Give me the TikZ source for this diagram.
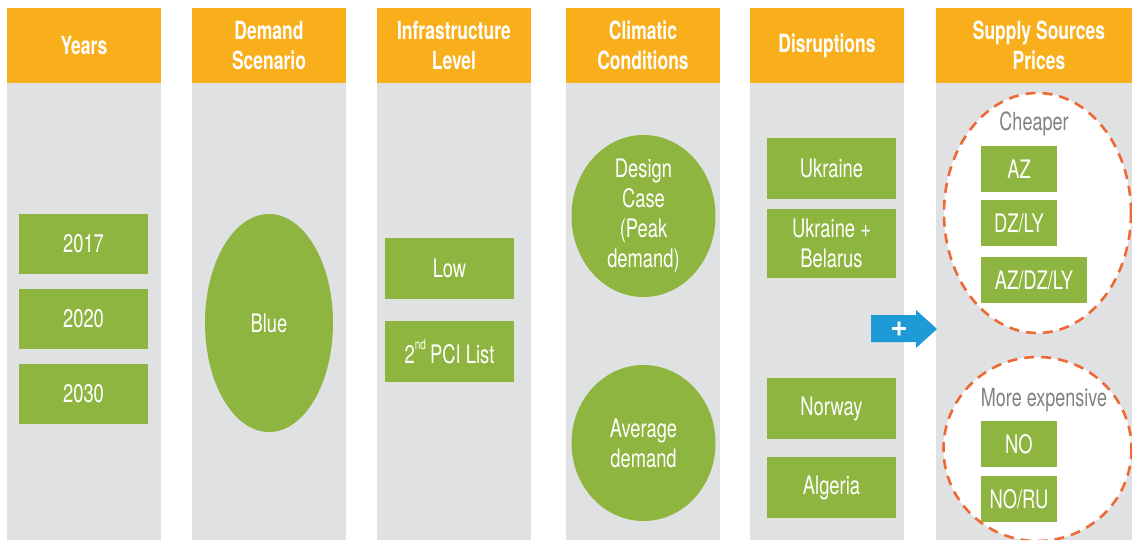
\documentclass[tikz,border=0pt]{standalone}
\usepackage{fontspec}
\usetikzlibrary{shapes.geometric}
\setmainfont{TeX Gyre Heros}[FakeStretch=0.72]
\newfontfamily\hdfont{TeX Gyre Heros}[FakeStretch=0.70]
\newfontfamily\plusfont{TeX Gyre Heros}
\definecolor{hdorange}{HTML}{F9AE1B}
\definecolor{colgray}{HTML}{E0E1E3}
\definecolor{boxgreen}{HTML}{8DB53F}
\definecolor{dashred}{HTML}{EE6A34}
\definecolor{arrowblue}{HTML}{1E9BD7}
\definecolor{txtgray}{HTML}{808285}
\begin{document}
\begin{tikzpicture}[x=1pt,y=-1pt,
  hdr/.style={fill=hdorange,draw=none,inner sep=0pt,text=white,align=center,
    font=\hdfont\bfseries\fontsize{25}{29.5}\selectfont},
  gbox/.style={rectangle,fill=boxgreen,draw=none,inner sep=0pt,text=white,align=center,
    font=\fontsize{25.5}{30}\selectfont},
  gell/.style={ellipse,fill=boxgreen,draw=none,inner sep=0pt,text=white,align=center,
    font=\fontsize{25.5}{30}\selectfont},
  dashell/.style={fill=white,draw=dashred,line width=2.6pt,dash pattern=on 10pt off 7pt},
  graytxt/.style={text=txtgray,inner sep=0pt,font=\fontsize{25}{28}\selectfont}
]
\useasboundingbox (0,0) rectangle (1132,540);
\fill[white] (0,0) rectangle (1132,540);
% columns
\foreach \x in {7,192,377,566,750} {
  \fill[colgray] (\x,83) rectangle ++(154,460);
  \fill[hdorange] (\x,8) rectangle ++(154,75);
}
\fill[colgray] (936,83) rectangle (1140,543);
\fill[hdorange] (936,8) rectangle (1140,83);
% headers
\node[hdr] (h1) at (84,45.5) {Years};
\node[hdr] (h2) at (269,45.5) {Demand\\Scenario};
\node[hdr] (h3) at (454,45.5) {Infrastructure\\Level};
\node[hdr] (h4) at (643,45.5) {Climatic\\Conditions};
\node[hdr] (h5) at (827,45.5) {Disruptions};
\node[hdr] (h6) at (1039,45.5) {Supply Sources\\Prices};
% years
\node[gbox,minimum width=129pt,minimum height=60pt] (y17) at (83.5,244) {2017};
\node[gbox,minimum width=129pt,minimum height=60pt] (y20) at (83.5,319) {2020};
\node[gbox,minimum width=129pt,minimum height=60pt] (y30) at (83.5,394) {2030};
% demand
\node[gell,minimum width=128pt,minimum height=218pt] (blue) at (269,323) {Blue};
% infrastructure
\node[gbox,minimum width=129pt,minimum height=61pt] (low) at (449.5,268.5) {Low};
\node[gbox,minimum width=129pt,minimum height=61pt] (pci) at (449.5,351.5) {2\raisebox{0.55em}{\fontsize{14}{14}\selectfont nd}\,PCI List};
% climatic
\node[gell,minimum width=144pt,minimum height=162pt] (design) at (643.5,216) {Design\\Case\\(Peak\\demand)};
\node[gell,minimum width=144pt,minimum height=156pt] (avg) at (643.5,443) {Average\\demand};
% disruptions
\node[gbox,minimum width=129pt,minimum height=61pt] (ukr) at (831.5,168.5) {Ukraine};
\node[gbox,minimum width=129pt,minimum height=69pt] (ukb) at (831.5,243.5) {Ukraine +\\Belarus};
\node[gbox,minimum width=129pt,minimum height=61pt] (nor) at (831.5,408.5) {Norway};
\node[gbox,minimum width=129pt,minimum height=61pt] (alg) at (831.5,487.5) {Algeria};
% supply prices
\draw[dashell] (1037.5,213) ellipse [x radius=93.5, y radius=120];
\draw[dashell] (1037.5,449) ellipse [x radius=94, y radius=92];
\node[graytxt,anchor=base] (cheap) at (1034,131) {Cheaper};
\node[graytxt,anchor=base] (exp) at (1044,406) {More expensive};
\node[gbox,minimum width=76pt,minimum height=46pt] (az) at (1019,169) {AZ};
\node[gbox,minimum width=76pt,minimum height=46pt] (dzly) at (1019,223) {DZ/LY};
\node[gbox,minimum width=106pt,minimum height=46pt] (azdzly) at (1034,280) {AZ/DZ/LY};
\node[gbox,minimum width=76pt,minimum height=46pt] (no) at (1019,444) {NO};
\node[gbox,minimum width=76pt,minimum height=46pt] (noru) at (1019,499) {NO/RU};
% arrow
\fill[arrowblue] (871,315) -- (916,315) -- (916,310) -- (937,329) -- (916,348) -- (916,342) -- (871,342) -- cycle;
\node[text=white,inner sep=0pt,font=\plusfont\bfseries\fontsize{30}{30}\selectfont] (plus) at (899,329) {+};
\end{tikzpicture}
\end{document}
